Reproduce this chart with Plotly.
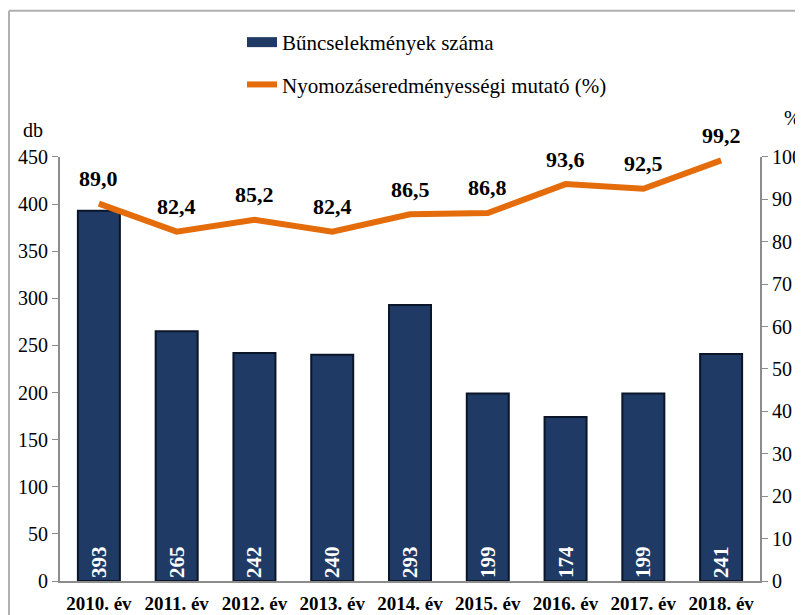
import plotly.graph_objects as go

# DATA
years = ['2010. év', '2011. év', '2012. év', '2013. év', '2014. év',
         '2015. év', '2016. év', '2017. év', '2018. év']
crimes = [393, 265, 242, 240, 293, 199, 174, 199, 241]
success_rate = [89.0, 82.4, 85.2, 82.4, 86.5, 86.8, 93.6, 92.5, 99.2]

bar_col = '#1f3a64'
line_col = '#e46c0a'
axis_col = '#8c8c8c'
serif = 'Liberation Serif'

# axes occupy the lower part of the plot area so the legend can sit above them
y_top = 0.740

fig = go.Figure()

fig.add_trace(go.Bar(
    x=years, y=crimes, name='Bűncselekmények száma',
    marker=dict(color=bar_col, line=dict(color='#0b1628', width=2)),
    width=0.54,
    text=[str(v) for v in crimes], textposition='inside', insidetextanchor='start',
    textangle=-90, textfont=dict(family=serif, size=21, color='white', weight='bold'),
    showlegend=False,
))
# legend entry for the bars (wide bar-like swatch)
fig.add_trace(go.Scatter(
    x=[None], y=[None], name='Bűncselekmények száma', mode='lines',
    line=dict(color=bar_col, width=11), legendgroup='a',
))

fig.add_trace(go.Scatter(
    x=years, y=success_rate, name='Nyomozáseredményességi mutató (%)',
    mode='lines', line=dict(color=line_col, width=6), yaxis='y2',
    legendgroup='b',
))

# line value labels
for yr, v in zip(years, success_rate):
    fig.add_annotation(x=yr, y=v, yref='y2', text=f'{v:.1f}'.replace('.', ','),
                       showarrow=False, yshift=25,
                       font=dict(family=serif, size=22, color='black', weight='bold'))

fig.add_annotation(x=-0.021, y=0.787, xref='paper', yref='paper', text='db', showarrow=False,
                   xanchor='right', yanchor='middle', font=dict(family=serif, size=20, color='black'))
fig.add_annotation(x=1.046, y=0.808, xref='paper', yref='paper', text='%', showarrow=False,
                   xanchor='center', yanchor='middle', font=dict(family=serif, size=20, color='black'))

# outer frame (top and left)
fig.add_shape(type='line', xref='paper', yref='paper', x0=-0.0729, x1=1.2, y0=0.995, y1=0.995,
              line=dict(color='#b0b0b0', width=2))
fig.add_shape(type='line', xref='paper', yref='paper', x0=-0.0729, x1=-0.0729, y0=-0.2, y1=0.995,
              line=dict(color='#b0b0b0', width=2))

# page body has an 8px margin, so size the figure to fit the window
fig.update_layout(
    width=795, height=607,
    margin=dict(l=52, r=43, t=0, b=34),
    plot_bgcolor='white', paper_bgcolor='white',
    font=dict(family=serif, size=20, color='black'),
    bargap=0.46,
    showlegend=True,
    legend=dict(x=0.26, y=0.9756, xanchor='left', yanchor='top',
                font=dict(family=serif, size=21, color='black'),
                tracegroupgap=12, bgcolor='rgba(0,0,0,0)'),
    xaxis=dict(showline=True, linecolor=axis_col, linewidth=2, ticks='', tickangle=0,
               tickfont=dict(family=serif, size=19, weight='bold'), showgrid=False,
               ticklabelstandoff=4, automargin=False),
    yaxis=dict(domain=[0, y_top], range=[0, 450], dtick=50, showline=True, linecolor=axis_col,
               linewidth=2, ticks='outside', tickcolor=axis_col, ticklen=6, showgrid=False,
               zeroline=False, tickfont=dict(family=serif, size=20), automargin=False),
    yaxis2=dict(domain=[0, y_top], range=[0, 100], dtick=10, overlaying='y', side='right',
                showline=True, linecolor=axis_col, linewidth=2, ticks='outside',
                tickcolor=axis_col, ticklen=6, showgrid=False, zeroline=False,
                tickfont=dict(family=serif, size=20), automargin=False),
)

fig.write_html('out.html')
